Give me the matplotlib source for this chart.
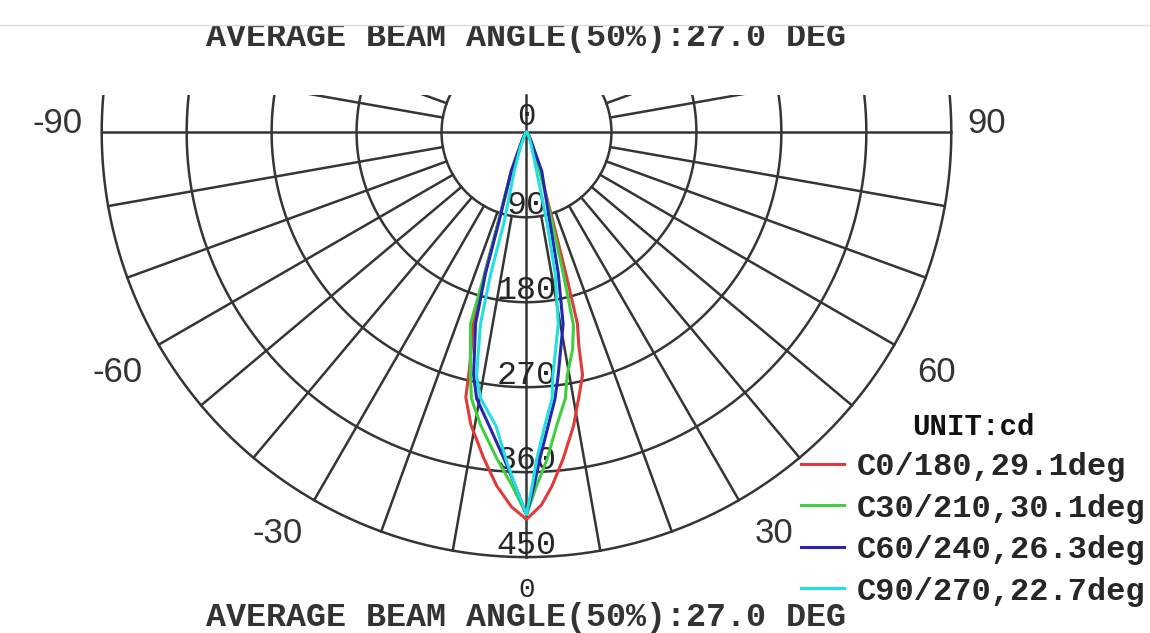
import numpy as np
import matplotlib.pyplot as plt
import matplotlib.patches as mpatches
from matplotlib.lines import Line2D

# ring values (cd) and C-plane curves
rings = [90, 180, 270, 360, 450]
labels = ["C0/180,29.1deg", "C30/210,30.1deg", "C60/240,26.3deg", "C90/270,22.7deg"]
colors = ["#e03a3a", "#3ed03e", "#2626b0", "#22e0e0"]

red_deg = [-90, -40, -30, -21, -17.5, -16.5, -15.5, -13.5, -12.9, -10.8, -7.5, -4.8, -2.3, 0,
           2.3, 4.1, 6.4, 9.1, 11.1, 13.0, 13.8, 14.9, 15.5, 16.5, 19, 25, 35, 90]
red_cd = [0, 3, 8, 44, 98, 155, 210, 260, 288, 315, 348, 376, 397, 410,
          395, 376, 348, 315, 287, 264, 232, 210, 160, 100, 45, 14, 4, 0]

green_deg = [-90, -40, -30, -21.5, -17.5, -16.5, -16.3, -13.0, -11.7, -8.9, -5.2, -2.3, 0,
             1.6, 3.6, 5.9, 8.3, 9.5, 12, 13.7, 14.6, 15.9, 18.9, 25, 35, 90]
green_cd = [0, 3, 8, 44, 98, 153, 211, 264, 288, 314, 347, 375, 405,
            375, 347, 312, 285, 261, 235, 210, 154, 99, 44, 12, 4, 0]

blue_deg = [-90, -40, -30, -21.5, -17.1, -16.2, -14.9, -12.3, -10.6, -7.3, -3.9, -1.8, 0,
            1.2, 2.3, 4.2, 6.1, 7.4, 10.8, 12.7, 14.6, 21.5, 30, 40, 90]
blue_cd = [0, 3, 8, 44, 99, 156, 210, 263, 287, 313, 347, 375, 405,
           375, 347, 312, 284, 260, 207, 153, 98, 44, 8, 3, 0]

cyan_deg = [-90, -40, -30, -22, -17.5, -14.0, -14.2, -13.5, -11.6, -9.8, -5.9, -3.6, -1.8, 0,
            0.9, 1.8, 3.6, 5.5, 6.2, 9.4, 11.5, 12.8, 14.7, 20, 30, 40, 90]
cyan_cd = [0, 2, 5, 18, 43, 98, 154, 209, 263, 286, 313, 347, 375, 405,
           375, 346, 311, 283, 259, 206, 152, 97, 42, 15, 5, 2, 0]

curves = [(red_deg, red_cd), (green_deg, green_cd), (blue_deg, blue_cd), (cyan_deg, cyan_cd)]
title = "AVERAGE BEAM ANGLE(50%):27.0 DEG"

W, H = 1150, 633
CX, CY = 526.5, 132.3   # centre of the diagram in pixels
K = 0.944               # pixels per cd
TOP = 39.5              # grid is cut off here (cd above centre)
GRID = "#353535"
TXT = "#262626"


def to_data(xp, yp):
    return (xp - CX) / K, (CY - yp) / K


def polar_xy(deg, r):
    t = np.radians(np.asarray(deg, dtype=float))
    r = np.asarray(r, dtype=float)
    return r * np.sin(t), -r * np.cos(t)


fig = plt.figure(figsize=(W / 100, H / 100), dpi=100)
ax = fig.add_axes([0, 0, 1, 1])
ax.set_xlim(-CX / K, (W - CX) / K)
ax.set_ylim(-(H - CY) / K, CY / K)
ax.axis("off")

clip = mpatches.Rectangle((-700, -700), 1400, 700 + TOP, transform=ax.transData)

# rings
t = np.linspace(0, 360, 1441)
for r in rings:
    x, y = polar_xy(t, r)
    ln, = ax.plot(x, y, color=GRID, lw=1.8, zorder=1)
    ln.set_clip_path(clip)

# radial lines every 10 deg, starting at the first ring
for a in range(-170, 190, 10):
    if a in (0, 90, -90, 180):
        continue
    x, y = polar_xy([a, a], [rings[0], rings[-1]])
    ln, = ax.plot(x, y, color=GRID, lw=1.8, zorder=1)
    ln.set_clip_path(clip)
ax.plot([-rings[-1], rings[-1]], [0, 0], color=GRID, lw=1.8, zorder=1)
ax.plot([0, 0], [TOP, -rings[-1]], color=GRID, lw=1.8, zorder=1)

# ring labels
for r in rings:
    ax.text(0, -r + 3.5, str(r), ha="center", va="baseline", color=TXT,
            family="Liberation Mono", fontsize=24, zorder=2)
ax.text(0, 7.5, "0", ha="center", va="baseline", color=TXT,
        family="Liberation Mono", fontsize=22, zorder=2)
x0, y0 = to_data(0, 597)
ax.text(0, y0, "0", ha="center", va="baseline", color=TXT,
        family="Liberation Mono", fontsize=20)

# angle labels
ang_text = ["-90", "-60", "-30", "30", "60", "90"]
ang_px = [(83, 133), (143, 382), (303, 543), (755, 543), (917, 382), (967, 133)]
for s, (xp, yp) in zip(ang_text, ang_px):
    xd, yd = to_data(xp, yp)
    ax.text(xd, yd, s, ha="right" if s.startswith("-") else "left", va="baseline",
            color="#333333", family="Liberation Sans", fontsize=25)

# curves
handles = []
for (deg, cd), c, lab in zip(curves, colors, labels):
    x, y = polar_xy(deg, cd)
    ln, = ax.plot(x, y, color=c, lw=2.2, zorder=3, label=lab)
    handles.append(ln)

lx, ly = 801 / W, 1 - 413 / H
leg = ax.legend(handles=handles, loc="upper left", bbox_to_anchor=(lx, ly),
                frameon=False, borderpad=0, borderaxespad=0, handlelength=1.35,
                handletextpad=0.38, labelspacing=0.36,
                prop={"family": "Liberation Mono", "weight": "bold", "size": 23},
                title="UNIT:cd",
                title_fontproperties={"family": "Liberation Mono", "weight": "bold", "size": 21})
leg._legend_box.sep = 8
for txt in leg.get_texts():
    txt.set_color(TXT)
leg.get_title().set_color("#111111")

# titles
fig.text(CX / W, 1 - 46 / H, title, ha="center", va="baseline", color="#333333",
         family="Liberation Mono", weight="bold", fontsize=24)
fig.text(CX / W, 1 - 626 / H, title, ha="center", va="baseline", color="#333333",
         family="Liberation Mono", weight="bold", fontsize=24)

# cut-off strip at the very top
fig.patches.append(mpatches.Rectangle((0, 1 - 25 / H), 1, 25 / H, transform=fig.transFigure,
                                      facecolor="white", edgecolor="none", zorder=10))
fig.add_artist(Line2D([0, 1], [1 - 25 / H] * 2, color="#dcdcdc", lw=1, zorder=11))

fig.savefig("out.png", dpi=100)
